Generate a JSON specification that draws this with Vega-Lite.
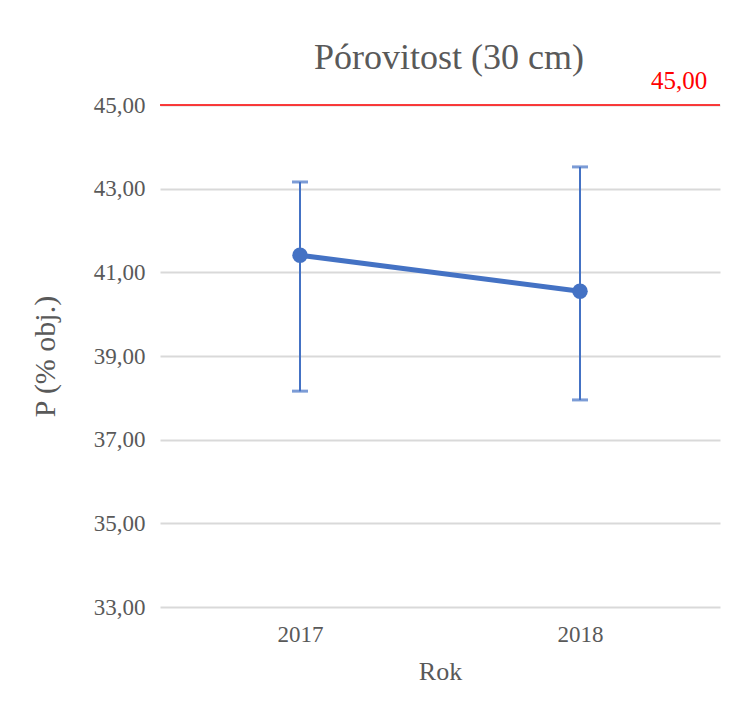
{
  "$schema": "https://vega.github.io/schema/vega-lite/v6.json",
  "autosize": {"type": "none"},
  "width": 560,
  "height": 502,
  "padding": {"left": 160, "top": 105, "right": 20, "bottom": 106},
  "background": "white",
  "config": {
    "font": "Liberation Serif",
    "view": {"stroke": null},
    "axis": {"labelFont": "Liberation Serif", "titleFont": "Liberation Serif", "labelColor": "#595959", "titleColor": "#595959", "titleFontWeight": "normal"}
  },
  "title": {
    "text": "Pórovitost (30 cm)",
    "fontSize": 36,
    "fontWeight": "normal",
    "color": "#595959",
    "font": "Liberation Serif",
    "anchor": "middle",
    "offset": 28,
    "dx": 9,
    "dy": 36
  },
  "data": {
    "values": [
      {"Rok": "2017", "P": 41.41, "low": 38.16, "high": 43.16},
      {"Rok": "2018", "P": 40.55, "low": 37.95, "high": 43.52}
    ]
  },
  "encoding": {
    "x": {
      "field": "Rok",
      "type": "ordinal",
      "scale": {"type": "point", "padding": 0.5},
      "axis": {"title": "Rok", "labelAngle": 0, "labelFontSize": 23, "titleFontSize": 26, "ticks": false, "domain": false, "grid": false, "labelPadding": 16, "titlePadding": 12}
    }
  },
  "layer": [
    {
      "mark": {"type": "rule", "color": "#4472c4", "strokeWidth": 2},
      "encoding": {
        "y": {
          "field": "low",
          "type": "quantitative",
          "scale": {"domain": [33, 45], "nice": false, "zero": false},
          "axis": {
            "title": "P (% obj.)",
            "values": [33, 35, 37, 39, 41, 43, 45],
            "labelExpr": "replace(format(datum.value, '.2f'), '.', ',')",
            "labelFontSize": 23,
            "titleFontSize": 30,
            "ticks": false,
            "domain": false,
            "gridColor": "#d9d9d9",
            "gridWidth": 2,
            "labelPadding": 15,
            "titlePadding": 33
          }
        },
        "y2": {"field": "high"}
      }
    },
    {
      "mark": {"type": "tick", "color": "#4472c4", "size": 16, "thickness": 3, "orient": "horizontal"},
      "encoding": {"y": {"field": "low", "type": "quantitative"}}
    },
    {
      "mark": {"type": "tick", "color": "#4472c4", "size": 16, "thickness": 3, "orient": "horizontal"},
      "encoding": {"y": {"field": "high", "type": "quantitative"}}
    },
    {
      "mark": {"type": "line", "color": "#4472c4", "strokeWidth": 5},
      "encoding": {"y": {"field": "P", "type": "quantitative"}}
    },
    {
      "mark": {"type": "point", "filled": true, "color": "#4472c4", "size": 240, "opacity": 1},
      "encoding": {"y": {"field": "P", "type": "quantitative"}}
    },
    {
      "data": {"values": [{"limit": 45, "label": "45,00", "Rok": "2018"}]},
      "layer": [
        {
          "mark": {"type": "rule", "color": "#ff0000", "strokeWidth": 1.5},
          "encoding": {"x": null, "y": {"field": "limit", "type": "quantitative"}}
        },
        {
          "mark": {"type": "text", "color": "#ff0000", "fontSize": 25, "dx": 99, "dy": -24, "baseline": "middle", "align": "center"},
          "encoding": {"y": {"field": "limit", "type": "quantitative"}, "text": {"field": "label"}}
        }
      ]
    }
  ]
}
